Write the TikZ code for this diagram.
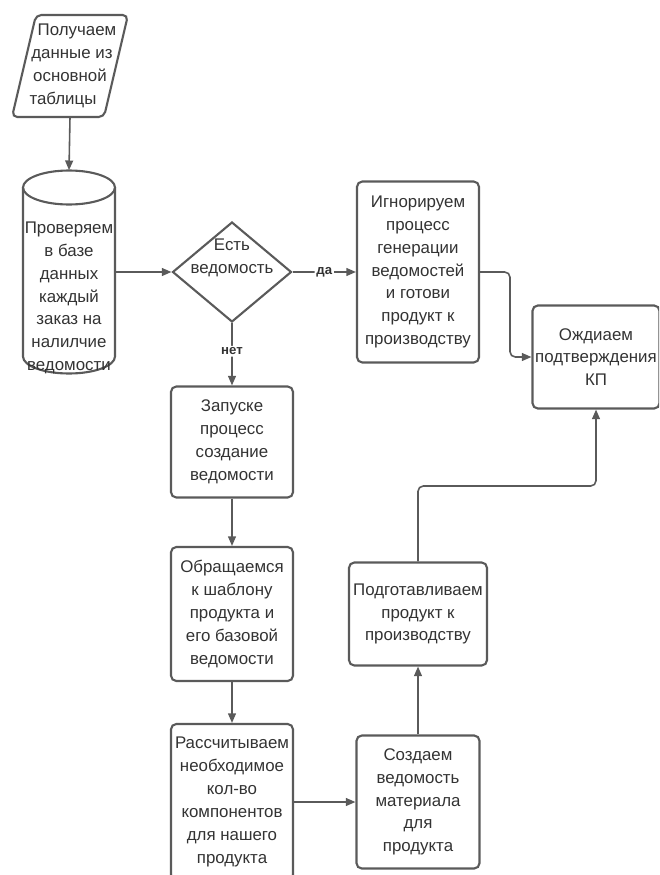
\documentclass[tikz,border=0pt]{standalone}
\usepackage{fontspec}
\setmainfont{Liberation Sans}
\usetikzlibrary{shapes.geometric,arrows.meta}

\definecolor{edge}{HTML}{5A5A5A}
\definecolor{ink}{HTML}{333333}

\tikzset{
  shp/.style={draw=edge, line width=1.2pt},
  blk/.style={draw=edge, line width=1.2pt, rounded corners=3pt, align=center, text=ink, inner sep=0pt},
  frame/.style={align=center, text=ink, inner sep=0pt},
  chk/.style={diamond, draw=edge, line width=1.2pt, inner sep=0pt, aspect=1.19, minimum width=2.38cm, minimum height=2cm},
  txt/.style={align=center, text=ink, inner sep=0pt},
  link/.style={draw=edge, line width=0.9pt, -{Triangle[length=5.5pt,width=4.5pt]}, rounded corners=3pt},
  tag/.style={fill=white, text=ink, font=\bfseries\fontsize{7.5}{9}\selectfont, inner sep=1pt}
}

\begin{document}
\begin{tikzpicture}[x=0.02cm, y=-0.02cm, font=\fontsize{9.6}{13}\selectfont]
  \useasboundingbox (0,0) rectangle (659,875);
  \clip (0,0) rectangle (659,875);

  % input
  \node[frame, minimum width=1.84cm, minimum height=2.04cm] (get) at (70,66)
    {\hspace*{0.28cm}Получаем\\\hspace*{0.08cm}данные из\\основной\hspace*{0.12cm}\\таблицы\hspace*{0.28cm}};
  \draw[shp, rounded corners=3pt] (36,15) -- (128,15) -- (104,117) -- (12,117) -- cycle;

  % database
  \node[frame, minimum width=1.84cm, minimum height=4.06cm] (db) at (69,272) {};
  \draw[shp] (23,187.5) -- (23,356.5) arc[start angle=180, end angle=360, x radius=0.92cm, y radius=0.34cm] -- (115,187.5);
  \draw[shp] (69,187.5) ellipse[x radius=0.92cm, y radius=0.34cm];
  \node[txt] (dbtxt) at (69,298) {Проверяем\\в базе\\данных\\каждый\\заказ на\\налилчие\\ведомости};

  \node[chk] (has) at (232,272) {};
  \node[txt] (hastxt) at (232,258) {Есть\\ведомость};

  \node[blk, minimum width=2.44cm, minimum height=3.62cm] (ign) at (418,272) {Игнорируем\\процесс\\генерации\\ведомостей\\и готови\\продукт к\\производству};
  \node[blk, minimum width=2.54cm, minimum height=2.06cm] (wait) at (596,357) {Ождиаем\\подтверждения\\КП};
  \node[blk, minimum width=2.44cm, minimum height=2.22cm] (start) at (232,442) {Запуске\\процесс\\создание\\ведомости};
  \node[blk, minimum width=2.44cm, minimum height=2.68cm] (tmpl) at (232,614) {Обращаемся\\к шаблону\\продукта и\\его базовой\\ведомости};
  \node[blk, minimum width=2.44cm, minimum height=3.12cm] (calc) at (232,802) {Рассчитываем\\необходимое\\кол-во\\компонентов\\для нашего\\продукта};
  \node[blk, minimum width=2.46cm, minimum height=2.66cm] (mat) at (418,802) {Создаем\\ведомость\\материала\\для\\продукта};
  \node[blk, minimum width=2.76cm, minimum height=2.06cm] (prep) at (418,614) {Подготавливаем\\продукт к\\производству};

  \coordinate (turn) at (510,272);
  \coordinate (bend) at (596,486);

  \draw[link] (get.south) -- (db.north);
  \draw[link] (db.east) -- (has.west);
  \draw[link] (has.east) -- node[tag] {да} (ign.west);
  \draw[link] (has.south) -- node[tag, pos=0.45] {нет} (start.north);
  \draw[link] (start.south) -- (tmpl.north);
  \draw[link] (tmpl.south) -- (calc.north);
  \draw[link] (calc.east) -- (mat.west);
  \draw[link] (mat.north) -- (prep.south);
  \draw[link] (prep.north) |- (bend) -- (wait.south);
  \draw[link] (ign.east) -- (turn) |- (wait.west);
\end{tikzpicture}
\end{document}
